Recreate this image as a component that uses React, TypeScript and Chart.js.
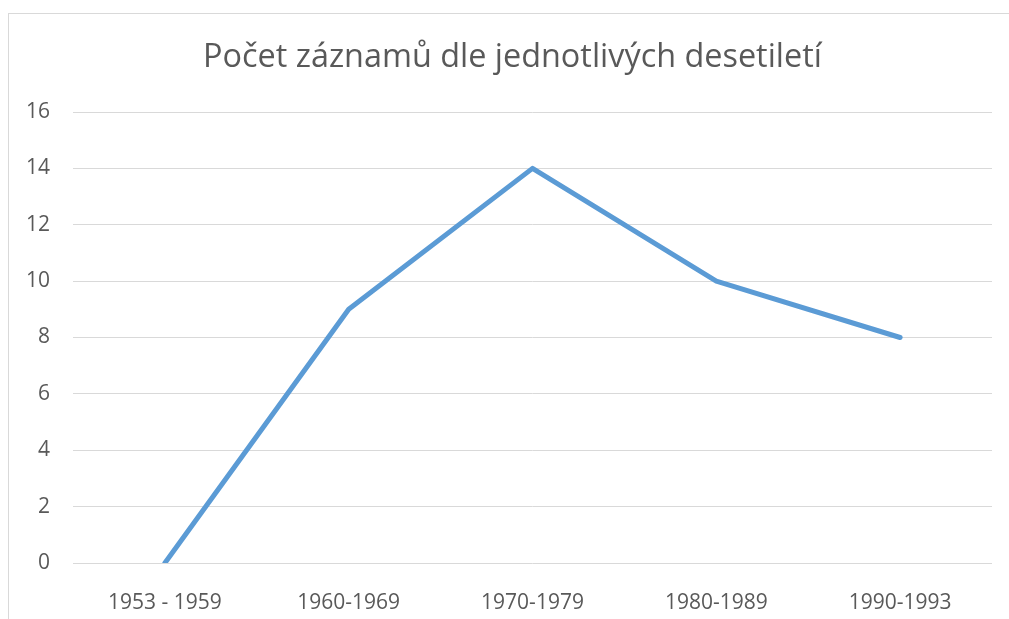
import React, { useEffect, useRef } from "react";
import { Chart, registerables } from "chart.js";

Chart.register(...registerables);

const categories = ["1953 - 1959", "1960-1969", "1970-1979", "1980-1989", "1990-1993"];
const values = [0, 9, 14, 10, 8];
const titleText = "Počet záznamů dle jednotlivých desetiletí";
const yMin = 0;
const yMax = 16;
const yStep = 2;

const decorPlugin = {
  id: "decor",
  beforeDraw(chart: any) {
    const ctx = chart.ctx;
    ctx.save();
    ctx.fillStyle = "#ffffff";
    ctx.fillRect(0, 0, chart.width, chart.height);
    ctx.strokeStyle = "#d9d9d9";
    ctx.lineWidth = 1;
    ctx.strokeRect(8.5, 13.5, chart.width + 20, chart.height + 20);
    ctx.fillStyle = "#595959";
    ctx.font = "normal 32.4px 'Open Sans'";
    ctx.textAlign = "center";
    ctx.textBaseline = "middle";
    ctx.fillText(titleText, 512.5, 58);
    ctx.restore();
  },
};

export default function App() {
  const ref = useRef<HTMLCanvasElement | null>(null);
  useEffect(() => {
    if (!ref.current) return;
    const chart = new Chart(ref.current, {
      type: "line",
      data: {
        labels: categories,
        datasets: [
          {
            data: values,
            borderColor: "#5b9bd5",
            borderWidth: 5,
            pointRadius: 0,
            tension: 0,
            fill: false,
            borderCapStyle: "round",
            borderJoinStyle: "round",
          },
        ],
      },
      options: {
        animation: false,
        responsive: false,
        layout: { padding: { left: 0, right: 17, top: 112, bottom: 0 } },
        plugins: {
          legend: { display: false },
          tooltip: { enabled: false },
          title: { display: false },
        },
        scales: {
          x: {
            offset: true,
            grid: { display: false },
            border: { display: false },
            ticks: {
              color: "#595959",
              font: { family: "Open Sans", size: 21 },
              padding: 19,
              maxRotation: 0,
              autoSkip: false,
            },
            afterFit(scale: any) {
              scale.height = 56;
            },
          },
          y: {
            min: yMin,
            max: yMax,
            grid: { color: "#d9d9d9", lineWidth: 1, drawTicks: false },
            border: { display: false },
            ticks: {
              stepSize: yStep,
              color: "#595959",
              font: { family: "Open Sans", size: 21 },
              padding: 23,
            },
            afterFit(scale: any) {
              scale.width = 73;
            },
          },
        },
      },
      plugins: [decorPlugin],
    });
    return () => chart.destroy();
  }, []);
  return (
    <div style={{ position: "absolute", left: 0, top: 0, width: 1009, height: 619, overflow: "hidden" }}>
      <canvas ref={ref} width={1009} height={619} style={{ display: "block" }} />
    </div>
  );
}
